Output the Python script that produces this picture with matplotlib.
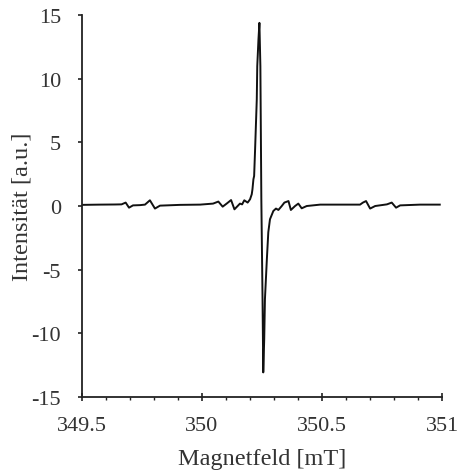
import matplotlib
matplotlib.use("Agg")
import matplotlib.pyplot as plt
from matplotlib.ticker import MultipleLocator

plt.rcParams['font.family'] = ['Liberation Serif', 'DejaVu Serif']

field = [349.5, 349.575, 349.6375, 349.665, 349.682, 349.696, 349.7125, 349.742,
         349.7625, 349.783, 349.804, 349.825, 349.908, 349.992, 350.046, 350.068,
         350.086, 350.104, 350.121, 350.135, 350.158, 350.167, 350.176, 350.19,
         350.2, 350.207, 350.21, 350.214, 350.217, 350.221, 350.228, 350.23,
         350.235, 350.239, 350.243, 350.247, 350.252, 350.255, 350.259, 350.262,
         350.27, 350.276, 350.283, 350.297, 350.308, 350.318, 350.332, 350.343,
         350.36, 350.37, 350.3875, 350.401, 350.415, 350.436, 350.492, 350.575,
         350.658, 350.67, 350.683, 350.7, 350.721, 350.77, 350.79, 350.808,
         350.825, 350.908, 350.99]
intensity = [0.09, 0.11, 0.12, 0.13, 0.27, -0.13, 0.05, 0.07,
             0.11, 0.45, -0.20, 0.03, 0.09, 0.11, 0.19, 0.35,
             -0.05, 0.21, 0.47, -0.26, 0.19, 0.13, 0.45, 0.27,
             0.53, 0.92, 1.31, 2.10, 2.36, 4.45, 8.38, 10.99,
             13.09, 14.40, 10.99, 0.53, -7.32, -13.08, -10.46, -7.32,
             -4.18, -2.06, -1.04, -0.39, -0.20, -0.31, 0.0, 0.27,
             0.39, -0.31, 0.0, 0.19, -0.18, 0.0, 0.11, 0.11,
             0.11, 0.27, 0.39, -0.20, 0.0, 0.13, 0.27, -0.13,
             0.05, 0.11, 0.11]

x_ticks = [349.5, 350, 350.5, 351]
x_tick_labels = ['349.5', '350', '350.5', '351']
y_ticks = [-15, -10, -5, 0, 5, 10, 15]
y_tick_labels = ['-15', '-10', '-5', '0', '5', '10', '15']

text_col = '#333333'
fig = plt.figure(figsize=(4.63, 4.77), dpi=100)
ax = fig.add_axes([0.177, 0.166, 0.778, 0.800])
ax.plot(field, intensity, color='#111111', lw=1.4, solid_joinstyle='round')
ax.set_xlim(349.5, 351)
ax.set_ylim(-15, 15)
ax.set_xticks(x_ticks)
ax.set_xticklabels(x_tick_labels)
ax.set_yticks(y_ticks)
ax.set_yticklabels(y_tick_labels)
ax.xaxis.set_minor_locator(MultipleLocator(0.1))
for s in ['top', 'right']:
    ax.spines[s].set_visible(False)
for s in ['left', 'bottom']:
    ax.spines[s].set_linewidth(1.3)
    ax.spines[s].set_color('#222222')
ax.tick_params(axis='x', which='major', direction='inout', length=6, width=1.2,
               pad=11, labelsize=16, labelcolor=text_col, color='#222222')
ax.tick_params(axis='x', which='minor', direction='out', length=2.5, width=1.0,
               color='#222222')
ax.tick_params(axis='y', which='major', direction='out', length=3, width=1.2,
               pad=12, labelsize=16, labelcolor=text_col, color='#222222')
ax.set_xlabel('Magnetfeld [mT]', fontsize=17.5, color=text_col)
ax.set_ylabel('Intensität [a.u.]', fontsize=17.5, color=text_col)
ax.xaxis.set_label_coords(0.5, -0.135)
ax.yaxis.set_label_coords(-0.138, 0.5)
fig.savefig('out.png', dpi=100)
